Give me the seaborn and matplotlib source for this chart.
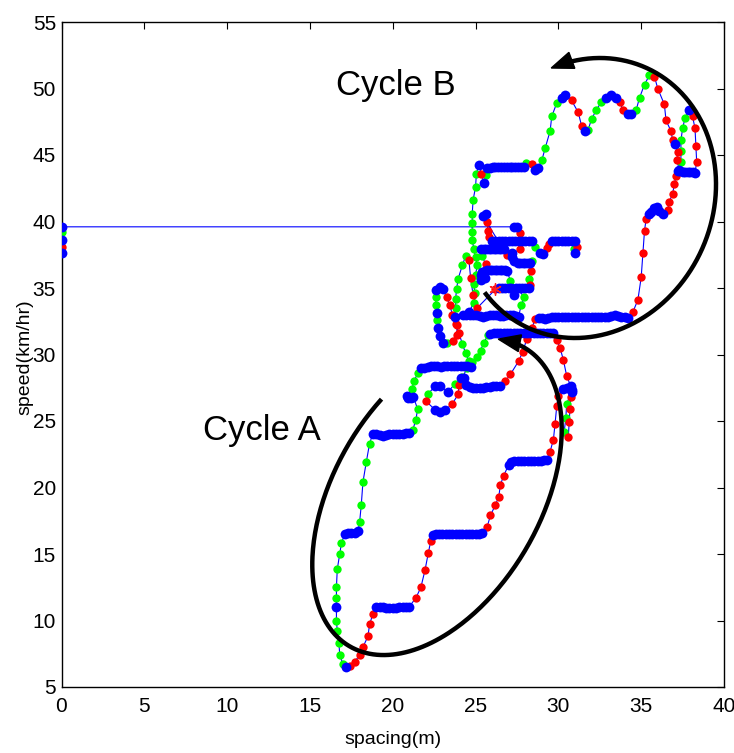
import numpy as np
import pandas as pd
import matplotlib
matplotlib.use("Agg")
import matplotlib.pyplot as plt
from matplotlib.patches import Polygon
import seaborn as sns

# Car-following trajectory: (spacing [m], speed [km/hr], driving state)
# state: C = cruise, A = acceleration, D = deceleration
lead_in = [
    (0.0, 37.6, "C"), (0.0, 38.1, "A"), (0.0, 38.6, "C"), (0.0, 39.2, "D"), (0.0, 39.6, "C"),
]

approach = [
    (27.3, 39.6, "C"), (27.5, 39.55, "C"), (27.7, 39.1, "A"), (27.75, 38.5, "A"), (27.7, 37.9, "A"),
    (27.2, 37.6, "C"), (27.2, 37.3, "C"), (27.35, 37.0, "C"), (27.55, 36.85, "C"), (27.7, 36.85, "C"),
    (27.85, 36.85, "C"), (28.0, 36.85, "C"), (28.15, 36.85, "C"), (28.3, 36.9, "C"),
    (28.4, 37.0, "D"), (28.35, 36.3, "A"), (28.2, 35.7, "D"), (28.3, 35.2, "A"),
    (28.2, 35.0, "C"), (28.0, 35.0, "C"), (27.8, 35.0, "C"), (27.6, 35.0, "C"), (27.45, 35.0, "C"),
    (27.3, 34.5, "C"), (27.15, 35.0, "C"), (27.0, 35.0, "C"), (26.8, 35.0, "C"), (26.6, 35.0, "C"),
    (26.4, 35.0, "C"), (26.2, 34.9, "A"),
    (25.1, 33.5, "A"), (24.85, 34.5, "A"), (24.7, 35.75, "A"), (24.6, 37.1, "A"),
    (24.4, 37.4, "D"), (24.2, 36.7, "D"), (23.95, 35.7, "D"), (23.85, 34.9, "D"), (23.8, 34.2, "D"),
    (23.8, 33.5, "D"), (23.75, 32.8, "C"),
    (23.85, 32.2, "A"), (23.9, 31.5, "A"), (23.65, 31.0, "A"), (23.3, 30.9, "D"), (23.05, 30.85, "C"),
    (22.85, 31.4, "C"), (22.75, 32.0, "C"), (22.65, 32.6, "D"), (22.7, 33.1, "C"), (22.6, 33.7, "D"),
    (22.6, 34.3, "D"), (22.6, 34.85, "C"), (22.85, 35.05, "C"), (23.05, 34.9, "C"), (23.25, 34.3, "A"),
    (23.45, 33.7, "A"), (23.6, 33.0, "A"), (23.8, 32.3, "A"), (24.0, 31.6, "A"), (24.2, 30.8, "D"),
    (24.4, 30.1, "D"), (24.6, 29.5, "D"),
    (24.7, 29.05, "C"), (24.5, 29.1, "C"), (24.3, 29.1, "C"), (24.1, 29.15, "C"), (23.9, 29.1, "C"),
    (23.7, 29.1, "C"), (23.5, 29.1, "C"), (23.3, 29.1, "C"), (23.1, 29.1, "C"), (22.9, 29.05, "C"),
    (22.7, 29.1, "C"), (22.5, 29.1, "C"), (22.3, 29.1, "C"), (22.1, 29.05, "C"), (21.9, 29.0, "C"),
    (21.7, 28.95, "C"),
    (21.5, 28.6, "D"), (21.3, 28.0, "D"), (21.15, 27.4, "D"),
    (20.85, 26.9, "C"), (20.95, 26.7, "C"), (21.1, 26.7, "C"), (21.25, 26.8, "C"),
    (21.5, 25.9, "D"), (21.4, 25.1, "D"), (21.2, 24.3, "D"),
]

cycle_a = [
    (21.0, 24.1, "C"), (20.8, 24.1, "C"), (20.6, 24.05, "C"), (20.4, 24.05, "C"), (20.2, 24.0, "C"),
    (20.0, 24.0, "C"), (19.8, 24.0, "C"), (19.6, 23.95, "C"), (19.4, 23.9, "C"), (19.2, 23.95, "C"),
    (19.0, 24.0, "C"), (18.8, 24.05, "C"),
    (18.6, 23.3, "D"), (18.4, 21.9, "D"), (18.2, 20.4, "D"), (18.1, 18.7, "D"), (18.0, 17.4, "D"),
    (17.9, 16.7, "C"), (17.7, 16.55, "C"), (17.5, 16.55, "C"), (17.3, 16.55, "C"), (17.1, 16.5, "C"),
    (16.9, 15.8, "D"), (16.8, 15.0, "D"), (16.65, 13.85, "D"), (16.6, 12.5, "D"), (16.6, 11.7, "D"),
    (16.6, 11.0, "C"), (16.6, 10.0, "D"), (16.65, 9.2, "D"), (16.75, 8.3, "D"), (16.8, 7.4, "D"),
    (17.0, 6.7, "D"), (17.2, 6.5, "C"),
    (17.4, 6.6, "A"), (17.7, 6.9, "A"), (18.0, 7.4, "A"), (18.2, 8.0, "A"), (18.5, 8.8, "A"),
    (18.6, 9.7, "A"), (18.8, 10.5, "A"),
    (19.0, 11.0, "C"), (19.2, 11.05, "C"), (19.4, 11.0, "C"), (19.6, 10.95, "C"), (19.8, 10.95, "C"),
    (20.0, 10.95, "C"), (20.2, 10.95, "C"), (20.4, 11.0, "C"), (20.6, 11.0, "C"), (20.8, 11.0, "C"),
    (21.0, 11.05, "C"),
    (21.4, 11.7, "A"), (21.7, 12.5, "A"), (21.95, 13.8, "A"), (22.15, 15.1, "A"), (22.3, 16.0, "A"),
    (22.45, 16.4, "C"), (22.6, 16.5, "C"), (22.8, 16.5, "C"), (23.0, 16.5, "C"), (23.2, 16.5, "C"),
    (23.4, 16.5, "C"), (23.6, 16.5, "C"), (23.8, 16.5, "C"), (24.0, 16.5, "C"), (24.2, 16.5, "C"),
    (24.4, 16.5, "C"), (24.6, 16.5, "C"), (24.8, 16.5, "C"), (25.0, 16.5, "C"), (25.2, 16.5, "C"),
    (25.4, 16.55, "C"),
    (25.7, 17.05, "A"), (25.9, 17.9, "A"), (26.2, 18.7, "A"), (26.4, 19.3, "A"), (26.5, 20.2, "A"),
    (26.7, 20.9, "A"),
    (27.0, 21.7, "C"), (27.15, 21.95, "C"), (27.35, 22.0, "C"), (27.55, 22.0, "C"), (27.75, 22.0, "C"),
    (27.95, 22.0, "C"), (28.15, 22.0, "C"), (28.35, 22.0, "C"), (28.55, 22.0, "C"), (28.75, 22.0, "C"),
    (28.95, 22.0, "C"), (29.15, 22.05, "C"), (29.3, 22.1, "C"),
    (29.5, 22.7, "A"), (29.7, 23.6, "A"), (29.8, 24.8, "A"), (29.9, 26.1, "A"), (30.0, 26.9, "A"),
    (30.3, 27.4, "C"), (30.55, 27.5, "C"), (30.8, 27.2, "C"),
    (30.5, 26.3, "D"), (30.45, 25.2, "D"), (30.35, 24.2, "D"),
    (30.6, 23.8, "A"), (30.65, 24.9, "A"), (30.7, 25.9, "A"), (30.75, 26.8, "A"),
    (30.85, 27.3, "C"), (30.75, 27.6, "C"),
    (30.5, 28.4, "A"), (30.3, 29.6, "A"), (30.1, 30.5, "A"), (29.9, 31.1, "A"),
    (29.7, 31.6, "C"), (29.5, 31.65, "C"), (29.3, 31.65, "C"), (29.1, 31.65, "C"), (28.9, 31.65, "C"),
    (28.7, 31.65, "C"), (28.5, 31.65, "C"), (28.3, 31.65, "C"), (28.1, 31.65, "C"), (27.9, 31.65, "C"),
    (27.7, 31.65, "C"), (27.5, 31.65, "C"), (27.3, 31.65, "C"), (27.1, 31.65, "C"), (26.9, 31.65, "C"),
    (26.7, 31.65, "C"), (26.5, 31.65, "C"), (26.3, 31.65, "C"), (26.1, 31.6, "C"), (25.9, 31.55, "C"),
    (25.75, 31.45, "D"), (25.5, 30.9, "D"), (25.3, 30.3, "D"), (25.1, 29.8, "D"), (24.8, 29.4, "D"),
    (24.5, 28.95, "D"), (24.2, 28.3, "D"), (23.75, 27.8, "D"),
    (23.35, 27.2, "C"), (22.85, 27.6, "C"), (22.55, 27.6, "C"), (22.1, 27.0, "D"), (22.0, 26.5, "A"),
    (22.55, 25.85, "C"), (22.85, 25.65, "C"), (23.15, 25.8, "C"), (23.6, 26.3, "A"), (23.95, 27.0, "A"),
    (24.0, 27.7, "A"), (24.1, 28.2, "C"), (24.3, 28.25, "C"), (24.45, 27.7, "C"),
    (24.65, 27.55, "C"), (24.85, 27.5, "C"), (25.05, 27.5, "C"), (25.25, 27.5, "C"), (25.45, 27.5, "C"),
    (25.65, 27.55, "C"), (25.85, 27.55, "C"), (26.05, 27.6, "C"), (26.25, 27.6, "C"), (26.45, 27.65, "C"),
    (26.8, 28.0, "A"), (27.1, 28.5, "A"), (27.6, 29.5, "A"), (27.85, 30.2, "A"), (28.1, 31.2, "A"),
    (28.4, 32.0, "A"), (28.6, 32.65, "A"),
]

cycle_b = [
    (28.8, 32.75, "C"), (29.0, 32.75, "C"), (29.2, 32.7, "C"), (29.4, 32.75, "C"), (29.6, 32.8, "C"),
    (29.8, 32.85, "C"), (30.0, 32.85, "C"), (30.2, 32.85, "C"), (30.4, 32.85, "C"), (30.6, 32.85, "C"),
    (30.8, 32.85, "C"), (31.0, 32.85, "C"), (31.2, 32.85, "C"), (31.4, 32.85, "C"), (31.6, 32.85, "C"),
    (31.8, 32.85, "C"), (32.0, 32.85, "C"), (32.2, 32.85, "C"), (32.4, 32.85, "C"), (32.6, 32.85, "C"),
    (32.8, 32.85, "C"), (33.0, 32.85, "C"), (33.2, 32.9, "C"), (33.4, 32.95, "C"), (33.6, 32.9, "C"),
    (33.8, 32.85, "C"), (34.0, 32.8, "C"), (34.2, 32.75, "C"),
    (34.5, 33.2, "A"), (34.8, 34.1, "A"), (35.0, 35.8, "A"), (35.1, 37.6, "A"), (35.2, 39.3, "A"),
    (35.3, 40.2, "A"),
    (35.45, 40.6, "C"), (35.6, 40.75, "C"), (35.8, 41.0, "C"), (35.95, 41.1, "C"), (36.1, 40.8, "C"),
    (36.3, 40.6, "C"),
    (36.6, 40.9, "A"), (36.7, 41.5, "A"), (36.9, 42.1, "A"), (37.0, 42.8, "A"), (37.1, 43.4, "A"),
    (37.2, 43.8, "C"), (37.35, 43.8, "C"), (37.5, 43.7, "C"), (37.65, 43.7, "C"), (37.8, 43.7, "C"),
    (37.95, 43.7, "C"), (38.1, 43.7, "C"), (38.25, 43.65, "C"),
    (38.35, 44.5, "A"), (38.3, 45.7, "A"), (38.25, 47.0, "A"), (38.1, 47.9, "A"),
    (37.9, 48.4, "C"),
    (37.65, 47.8, "D"), (37.5, 47.0, "D"), (37.4, 46.1, "D"), (37.4, 45.3, "D"), (37.4, 44.5, "D"),
    (37.3, 43.9, "C"),
    (37.15, 44.6, "A"), (37.2, 45.2, "A"),
    (37.05, 45.8, "C"),
    (36.9, 46.1, "A"), (36.8, 46.8, "A"), (36.5, 47.6, "A"), (36.4, 48.8, "A"), (36.0, 50.0, "A"),
    (35.8, 50.9, "A"),
    (35.5, 51.0, "D"), (35.2, 50.3, "D"), (34.9, 49.3, "D"), (34.7, 48.4, "D"),
    (34.4, 48.1, "C"), (34.2, 48.1, "C"),
    (33.9, 48.4, "A"), (33.7, 49.0, "A"),
    (33.5, 49.3, "C"), (33.2, 49.5, "C"), (32.9, 49.3, "C"),
    (32.6, 49.0, "D"), (32.3, 48.4, "D"), (32.0, 47.7, "D"), (31.8, 46.9, "D"),
    (31.6, 46.8, "C"),
    (31.4, 47.2, "A"), (31.2, 48.2, "A"), (30.8, 49.1, "A"),
    (30.4, 49.5, "C"), (30.2, 49.3, "C"),
    (29.9, 48.9, "D"), (29.6, 47.9, "D"), (29.5, 46.8, "D"), (29.2, 45.5, "D"), (29.0, 44.6, "D"),
    (28.75, 44.0, "C"), (28.6, 43.9, "C"), (28.4, 44.3, "A"), (28.05, 44.4, "D"),
    (27.9, 44.1, "C"), (27.73, 44.1, "C"), (27.56, 44.1, "C"), (27.39, 44.1, "C"), (27.22, 44.1, "C"),
    (27.05, 44.1, "C"), (26.88, 44.1, "C"), (26.71, 44.1, "C"), (26.54, 44.1, "C"), (26.37, 44.1, "C"),
    (26.2, 44.1, "C"), (26.03, 44.1, "C"), (25.86, 44.05, "C"), (25.7, 44.0, "C"),
    (25.6, 43.5, "D"), (25.5, 42.9, "C"), (25.35, 43.6, "A"), (25.2, 44.25, "C"), (25.05, 43.6, "D"),
]

tail = [
    (25.0, 42.6, "D"), (24.85, 41.6, "D"), (24.8, 40.6, "D"), (24.8, 39.9, "D"), (24.8, 39.2, "D"),
    (24.8, 38.6, "D"), (24.9, 37.9, "D"), (25.0, 37.3, "D"), (25.1, 36.7, "D"), (25.0, 36.0, "D"),
    (24.9, 35.3, "D"), (24.95, 34.6, "D"), (24.9, 33.9, "D"),
    (24.6, 33.2, "C"), (24.25, 33.0, "C"), (24.45, 32.95, "C"), (24.65, 32.95, "C"), (24.85, 32.95, "C"),
    (25.05, 32.95, "C"), (25.25, 32.9, "C"), (25.45, 32.85, "C"), (25.65, 32.9, "C"), (25.85, 32.95, "C"),
    (26.05, 32.95, "C"), (26.25, 32.95, "C"), (26.45, 32.9, "C"), (26.65, 32.9, "C"), (26.85, 32.95, "C"),
    (27.05, 32.95, "C"), (27.25, 32.95, "C"), (27.45, 32.9, "C"), (27.6, 32.85, "C"),
    (27.75, 33.7, "D"), (27.95, 34.3, "D"), (27.1, 35.55, "D"),
    (26.9, 36.3, "C"), (26.75, 36.35, "C"), (26.6, 36.35, "C"), (26.45, 36.35, "C"), (26.3, 36.35, "C"),
    (26.15, 36.35, "C"), (26.0, 36.35, "C"), (25.85, 36.35, "C"), (25.7, 36.35, "C"), (25.55, 36.3, "C"),
    (25.4, 36.2, "C"), (25.3, 35.95, "C"), (25.35, 35.6, "C"), (25.55, 35.75, "C"),
    (25.6, 36.8, "A"), (25.4, 37.4, "D"),
    (25.35, 37.9, "C"), (25.5, 37.9, "C"), (25.65, 37.9, "C"), (25.8, 37.9, "C"), (25.95, 37.9, "C"),
    (26.1, 37.9, "C"), (26.25, 37.9, "C"), (26.4, 37.9, "C"), (26.55, 37.9, "C"), (26.7, 37.9, "C"),
    (26.9, 37.45, "A"),
    (25.45, 40.4, "C"), (25.6, 40.6, "C"), (25.7, 40.0, "A"), (25.75, 39.3, "A"), (25.8, 38.8, "A"),
    (26.0, 38.5, "C"), (26.2, 38.5, "C"), (26.4, 38.5, "C"), (26.6, 38.5, "C"), (26.8, 38.5, "C"),
    (27.0, 38.5, "C"), (27.2, 38.5, "C"), (27.4, 38.5, "C"), (27.6, 38.5, "C"), (27.8, 38.5, "C"),
    (28.0, 38.5, "C"), (28.2, 38.5, "C"), (28.4, 38.5, "C"),
    (28.6, 38.05, "D"), (28.9, 37.6, "C"), (29.05, 37.55, "C"), (29.3, 38.0, "A"), (29.45, 38.3, "A"),
    (29.6, 38.5, "C"), (29.8, 38.5, "C"), (30.0, 38.5, "C"), (30.2, 38.5, "C"), (30.4, 38.5, "C"),
    (30.6, 38.5, "C"), (30.8, 38.5, "C"), (31.0, 38.5, "C"),
    (31.1, 38.05, "A"), (30.95, 37.95, "D"), (31.0, 37.6, "C"),
]

start_marker = (26.2, 34.9)

x_ticks = [0, 5, 10, 15, 20, 25, 30, 35, 40]
y_ticks = [5, 10, 15, 20, 25, 30, 35, 40, 45, 50, 55]

state_colors = {"D": "#00ff00", "A": "#ff0000", "C": "#0000ff"}
state_sizes = {"D": 36, "A": 36, "C": 50}

df = pd.DataFrame(lead_in + approach + cycle_a + cycle_b + tail,
                  columns=["spacing", "speed", "state"])

sns.set_theme(style="white")
plt.rcParams["font.family"] = ["Liberation Sans Narrow", "Liberation Sans", "DejaVu Sans"]
plt.rcParams["text.color"] = "black"
plt.rcParams["axes.labelcolor"] = "black"

W, H = 734, 753
fig = plt.figure(figsize=(W / 100, H / 100), dpi=100)
fig.patch.set_facecolor("white")
ax = fig.add_axes([61.5 / W, 1 - 687 / H, (724 - 61.5) / W, (687 - 22) / H])
ax.set_facecolor("white")

# trajectory line in time order
sns.lineplot(data=df, x="spacing", y="speed", sort=False, estimator=None,
             color="#0000ff", lw=0.8, ax=ax, zorder=2)

# state-coloured samples, cruise points on top
for st in ["D", "A", "C"]:
    sub = df[df["state"] == st]
    sns.scatterplot(data=sub, x="spacing", y="speed", color=state_colors[st],
                    s=state_sizes[st], linewidth=0, ax=ax, zorder=3)

ax.scatter([start_marker[0]], [start_marker[1]], marker=(6, 2, 0), s=70,
           color="#ff2020", linewidths=1.0, zorder=4)

ax.set_xlim(0, 40)
ax.set_ylim(5, 55)
ax.set_xticks(x_ticks)
ax.set_yticks(y_ticks)
ax.tick_params(direction="in", length=5, width=0.8, top=True, right=True,
               labelsize=15, colors="black")
ax.tick_params(axis="x", pad=7)
ax.tick_params(axis="y", pad=4)
for sp in ax.spines.values():
    sp.set_visible(True)
    sp.set_color("black")
    sp.set_linewidth(1.0)

ax.set_xlabel("spacing(m)", fontsize=14, color="black")
ax.set_ylabel("speed(km/hr)", fontsize=14, color="black")
ax.xaxis.set_label_coords(0.5, -0.066)
ax.yaxis.set_label_coords(-0.043, 0.496)


def cycle_arrow(cx, cy, a, b, theta_deg, t0, t1):
    """Elliptic arc (centre/size in figure pixels) ending in a solid arrowhead."""
    th = np.radians(theta_deg)
    t = np.radians(np.linspace(t0, t1, 300))
    X = cx + a * np.cos(t) * np.cos(th) - b * np.sin(t) * np.sin(th)
    Yup = (H - cy) + a * np.cos(t) * np.sin(th) + b * np.sin(t) * np.cos(th)
    ax.plot(X / W, Yup / H, color="black", lw=3.2, transform=fig.transFigure,
            clip_on=False, solid_capstyle="butt", zorder=5)
    te = t[-1]
    dx = -a * np.sin(te) * np.cos(th) - b * np.cos(te) * np.sin(th)
    dy = -a * np.sin(te) * np.sin(th) + b * np.cos(te) * np.cos(th)
    n = np.hypot(dx, dy)
    dx, dy = dx / n, dy / n
    ex, ey = X[-1], Yup[-1]
    tip = (ex + 6 * dx, ey + 6 * dy)
    base = (ex - 16 * dx, ey - 16 * dy)
    half = 8.5
    pts = [tip,
           (base[0] - half * dy, base[1] + half * dx),
           (base[0] + half * dy, base[1] - half * dx)]
    pts = [(p[0] / W, p[1] / H) for p in pts]
    ax.add_patch(Polygon(pts, closed=True, color="black", transform=fig.transFigure,
                         clip_on=False, zorder=5))


cycle_arrow(437, 497, 173, 103, 59.6, 71, 372)
cycle_arrow(587.5, 198, 142.8, 125.4, 65.7, 154, 401)

fig.text(262 / W, 1 - 430 / H, "Cycle A", fontsize=25, ha="center", va="center",
         color="black", family=["Liberation Sans", "DejaVu Sans"])
fig.text(396 / W, 1 - 86 / H, "Cycle B", fontsize=25, ha="center", va="center",
         color="black", family=["Liberation Sans", "DejaVu Sans"])

fig.savefig("out.png", dpi=100, facecolor="white")
